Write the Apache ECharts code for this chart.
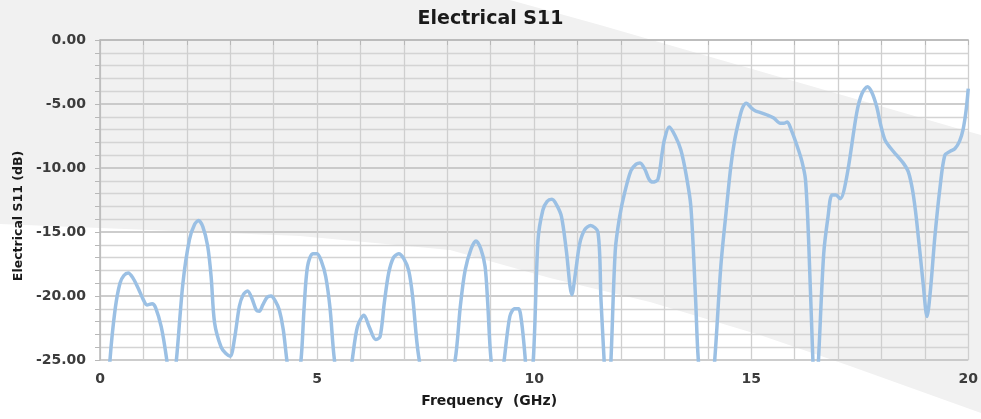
<!DOCTYPE html>
<html>
<head>
<meta charset="utf-8">
<script src="https://cdn.jsdelivr.net/npm/echarts@6/dist/echarts.min.js"></script>
<style>
html,body{margin:0;padding:0;background:#fff;}
#c{width:981px;height:419px;}
</style>
</head>
<body>
<div id="c"></div>
<script>
var titleText = 'Electrical S11';
var xName = 'Frequency  (GHz)';
var yName = 'Electrical S11 (dB)';

var freq = [0.10,0.23,0.35,0.46,0.55,0.65,0.76,0.88,1.00,1.08,1.20,1.28,1.41,1.53,1.65,1.76,1.91,2.06,2.18,2.27,2.37,2.48,2.56,2.64,2.79,2.90,3.00,3.10,3.21,3.30,3.40,3.50,3.60,3.67,3.75,3.85,3.94,4.04,4.13,4.22,4.30,4.46,4.63,4.70,4.78,4.90,5.00,5.10,5.20,5.30,5.39,5.60,5.81,5.93,6.08,6.20,6.35,6.45,6.55,6.65,6.76,6.88,7.00,7.11,7.20,7.34,7.76,8.18,8.30,8.41,8.55,8.66,8.77,8.87,8.93,9.00,9.15,9.31,9.44,9.55,9.64,9.71,9.79,9.86,9.98,10.09,10.20,10.30,10.41,10.52,10.63,10.74,10.87,10.96,11.05,11.17,11.30,11.47,11.54,11.61,11.69,11.77,11.87,11.97,12.08,12.23,12.35,12.44,12.55,12.65,12.73,12.85,12.95,13.00,13.11,13.25,13.38,13.50,13.61,13.72,13.78,13.97,14.16,14.30,14.42,14.53,14.62,14.72,14.80,14.89,15.00,15.10,15.20,15.37,15.52,15.67,15.75,15.83,15.92,16.06,16.17,16.25,16.32,16.42,16.48,16.55,16.67,16.77,16.86,16.95,17.05,17.20,17.43,17.55,17.68,17.78,17.89,17.98,18.08,18.20,18.35,18.50,18.62,18.72,18.81,18.96,19.05,19.13,19.23,19.35,19.46,19.58,19.69,19.80,19.88,19.95,20.00];
var s11 = [-32,-25,-21,-19.0,-18.4,-18.2,-18.6,-19.4,-20.3,-20.7,-20.6,-20.9,-22.4,-24.8,-28,-25,-19.0,-15.6,-14.4,-14.1,-14.6,-16.1,-18.5,-22.1,-24.0,-24.5,-24.7,-23.3,-20.8,-19.9,-19.6,-20.2,-21.1,-21.2,-20.7,-20.1,-20.0,-20.4,-21.1,-22.6,-24.9,-29,-25,-21,-17.7,-16.7,-16.7,-17.3,-18.5,-21,-24.7,-30,-25,-22.4,-21.5,-22.4,-23.4,-23.2,-20.5,-18.2,-17.0,-16.7,-17.1,-18.0,-20,-24.7,-32,-25,-20.8,-18.0,-16.3,-15.7,-16.3,-17.7,-20.5,-24.7,-29,-25,-21.6,-21.0,-21.0,-22.0,-24.7,-28,-25,-15.6,-13.3,-12.6,-12.45,-12.9,-13.8,-16.4,-19.9,-18.0,-15.9,-14.8,-14.5,-15.0,-20.3,-24.9,-30,-25,-16.4,-13.8,-12.0,-10.2,-9.7,-9.6,-10.1,-10.9,-11.1,-10.9,-8.8,-7.8,-6.8,-7.5,-8.6,-10.5,-13.0,-20.3,-24.9,-32,-25,-17.7,-13.5,-9.9,-7.8,-6.25,-5.3,-4.95,-5.3,-5.55,-5.65,-5.86,-6.1,-6.5,-6.5,-6.4,-7.0,-8.3,-9.5,-10.9,-15.4,-24.9,-29,-25,-16.7,-13.8,-12.1,-12.1,-12.4,-10.7,-5.7,-4.2,-3.65,-4.1,-5.2,-6.6,-7.8,-8.4,-9.0,-9.6,-10.3,-11.8,-14.1,-19.0,-21.6,-19.5,-15.4,-11.5,-9.0,-8.7,-8.5,-7.9,-7.0,-5.5,-3.8];

var xMin = 0, xMax = 20, xStep = 5;
var yMin = -25, yMax = 0, yStep = 5;

var data = freq.map(function (f, i) { return [f, s11[i]]; });

var chart = echarts.init(document.getElementById('c'));
var FONT = 'DejaVu Sans';
var LBL = '#3c3c3c';
chart.setOption({
  backgroundColor: '#ffffff',
  animation: false,
  graphic: [{
    type: 'polygon',
    z: -100,
    silent: true,
    shape: {
      points: [[0,0],[510,0],[600,25],[963,130],[981,135],[981,413],[850,366],[760,335],[650,302],[550,278],[450,250],[300,236],[0,224]]
    },
    style: { fill: '#f1f1f1' }
  }],
  title: {
    text: titleText,
    left: 'center',
    top: 5,
    textStyle: { fontFamily: FONT, fontSize: 19, fontWeight: 'bold', color: '#1a1a1a' }
  },
  grid: { left: 100, right: 9, top: 40, bottom: 59, containLabel: false },
  xAxis: {
    type: 'value',
    min: xMin, max: xMax, interval: xStep,
    name: xName,
    nameLocation: 'middle',
    nameGap: 34,
    nameTextStyle: { fontFamily: FONT, fontSize: 14, fontWeight: 'bold', color: '#1a1a1a', padding: [0, 90, 0, 0] },
    axisLine: { show: true, lineStyle: { color: '#b8b8b8', width: 1.5 } },
    axisTick: { show: true, length: 5, lineStyle: { color: '#b8b8b8' } },
    minorTick: { show: true, splitNumber: 5, length: 5, lineStyle: { color: '#b8b8b8' } },
    axisLabel: { margin: 12, fontFamily: FONT, fontSize: 14, fontWeight: 'bold', color: LBL },
    splitLine: { show: true, lineStyle: { color: '#cfcfcf', width: 1.3 } },
    minorSplitLine: { show: true, lineStyle: { color: '#cfcfcf', width: 1.3 } }
  },
  yAxis: {
    type: 'value',
    min: yMin, max: yMax, interval: yStep,
    name: yName,
    nameLocation: 'middle',
    nameGap: 74,
    nameTextStyle: { fontFamily: FONT, fontSize: 12.5, fontWeight: 'bold', color: '#1a1a1a', padding: [0, 32, 0, 0] },
    axisLine: { show: true, lineStyle: { color: '#b8b8b8', width: 1.5 } },
    axisTick: { show: true, length: 5, lineStyle: { color: '#b8b8b8' } },
    minorTick: { show: true, splitNumber: 5, length: 5, lineStyle: { color: '#b8b8b8' } },
    axisLabel: { margin: 14, fontFamily: FONT, fontSize: 14, fontWeight: 'bold', color: LBL,
      formatter: function (v) { return v.toFixed(2); } },
    splitLine: { show: true, lineStyle: { color: '#bdbdbd', width: 1.6 } },
    minorSplitLine: { show: true, lineStyle: { color: '#d4d4d4', width: 1.3 } }
  },
  series: [{
    type: 'line',
    data: data,
    smooth: 0.3,
    showSymbol: false,
    clip: true,
    lineStyle: { color: '#9bc0e4', width: 3.5 }
  }]
});
</script>
</body>
</html>
